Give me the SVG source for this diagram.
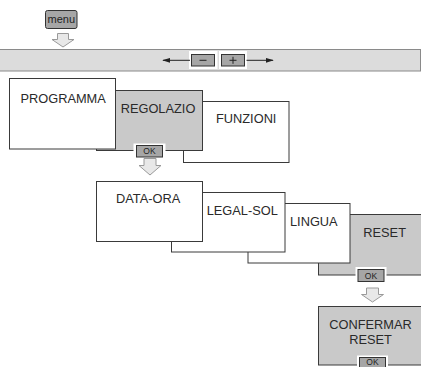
<svg xmlns="http://www.w3.org/2000/svg" width="421" height="367" viewBox="0 0 421 367">
<defs>
<style>
.box{fill:#ffffff;stroke:#3a3a3a;stroke-width:1}
.gbox{fill:#c9c9c9;stroke:#3a3a3a;stroke-width:1}
.lbl{font-family:"Liberation Sans",Arial,sans-serif;font-size:12.8px;fill:#2a2a2a}
.btn{fill:#a6a6a6;stroke:#333;stroke-width:1}
.halo{fill:#ffffff}
.btxt{font-family:"Liberation Sans",Arial,sans-serif;font-size:8.5px;fill:#222;text-anchor:middle}
.barr{fill:#e8e8e8;stroke:#9a9a9a;stroke-width:1}
.line{stroke:#222;stroke-width:1;fill:none}
</style>
<marker id="ah" viewBox="0 0 10 6" refX="9" refY="3" markerWidth="8" markerHeight="4.8" orient="auto" markerUnits="userSpaceOnUse">
<path d="M0,0 L10,3 L0,6 Z" fill="#222"/>
</marker>
</defs>

<g id="menu">
<rect class="btn" x="45.5" y="10.5" width="31.5" height="18" rx="2"/>
<text x="61.3" y="22.5" font-family="Liberation Sans, Arial, sans-serif" font-size="11" fill="#222" text-anchor="middle">menu</text>
</g>

<g id="bar">
<rect x="-1" y="49.5" width="421.5" height="21.5" fill="#dcdcdc" stroke="#8a8a8a" stroke-width="1"/>
<rect class="halo" x="189" y="51" width="28.5" height="18"/>
<rect class="halo" x="219" y="51" width="28" height="18"/>
<rect class="btn" x="191.5" y="54.5" width="23" height="11.5"/>
<rect class="btn" x="221.5" y="54.5" width="23" height="11.5"/>
<line x1="199.5" y1="60.3" x2="206.5" y2="60.3" stroke="#222" stroke-width="1"/>
<line x1="229.5" y1="60.3" x2="236.5" y2="60.3" stroke="#222" stroke-width="1"/>
<line x1="233" y1="56.8" x2="233" y2="63.8" stroke="#222" stroke-width="1"/>
</g>

<g id="row1">
<g id="funzioni">
<rect class="box" x="183.5" y="101.5" width="105.5" height="61"/>
<text class="lbl" x="216" y="123.3">FUNZIONI</text>
</g>
<g id="regolazio">
<rect class="gbox" x="96.5" y="90.5" width="106" height="60"/>
<text class="lbl" x="120.7" y="113">REGOLAZIO</text>
</g>
<g id="programma">
<rect class="box" x="9.5" y="78.5" width="106" height="70.5"/>
<text class="lbl" x="20.5" y="102.5">PROGRAMMA</text>
</g>
<g id="ok1">
<rect class="halo" x="133.5" y="143.5" width="32" height="15"/>
<rect class="btn" x="136.5" y="145.5" width="26" height="11.5"/>
<text class="btxt" x="149.5" y="154.3">OK</text>
</g>
</g>

<g id="row2">
<g id="reset">
<rect class="gbox" x="318.5" y="214.5" width="106" height="60.5"/>
<text class="lbl" x="363.3" y="236.7">RESET</text>
</g>
<g id="lingua">
<rect class="box" x="248" y="203.5" width="102" height="59.5"/>
<text class="lbl" x="290" y="225.7">LINGUA</text>
</g>
<g id="legalsol">
<rect class="box" x="171.5" y="192.5" width="113.5" height="59.5"/>
<text class="lbl" x="206.7" y="215">LEGAL-SOL</text>
</g>
<g id="dataora">
<rect class="box" x="96.5" y="181.5" width="106" height="60"/>
<text class="lbl" x="116" y="203.3">DATA-ORA</text>
</g>
<g id="ok2">
<rect class="halo" x="355.5" y="267" width="31" height="16"/>
<rect class="btn" x="358" y="269.5" width="26" height="12"/>
<text class="btxt" x="371" y="278.6">OK</text>
</g>
</g>

<g id="confermar">
<rect class="gbox" x="318.5" y="306.5" width="106" height="58.5"/>
<text class="lbl" x="370.5" y="329" text-anchor="middle">CONFERMAR</text>
<text class="lbl" x="370.5" y="344" text-anchor="middle">RESET</text>
<rect class="halo" x="357" y="355.5" width="31" height="12"/>
<rect class="btn" x="359.5" y="357.5" width="26" height="12"/>
<text class="btxt" x="372.5" y="364.8" font-size="8">OK</text>
</g>

<g id="connectors">
<path class="barr" d="M57.5,33.5 H68.5 V39.5 H74 L63,47 L52,39.5 H57.5 Z"/>
<path class="barr" d="M144,158.5 H156 V165.5 H161 L150,175 L139,165.5 H144 Z"/>
<path class="barr" d="M366.5,288 H378.5 V294.5 H383.5 L372.5,302 L361.5,294.5 H366.5 Z"/>
<line class="line" x1="190" y1="60.3" x2="163" y2="60.3" marker-end="url(#ah)"/>
<line class="line" x1="246.5" y1="60.3" x2="273" y2="60.3" marker-end="url(#ah)"/>
</g>
</svg>
